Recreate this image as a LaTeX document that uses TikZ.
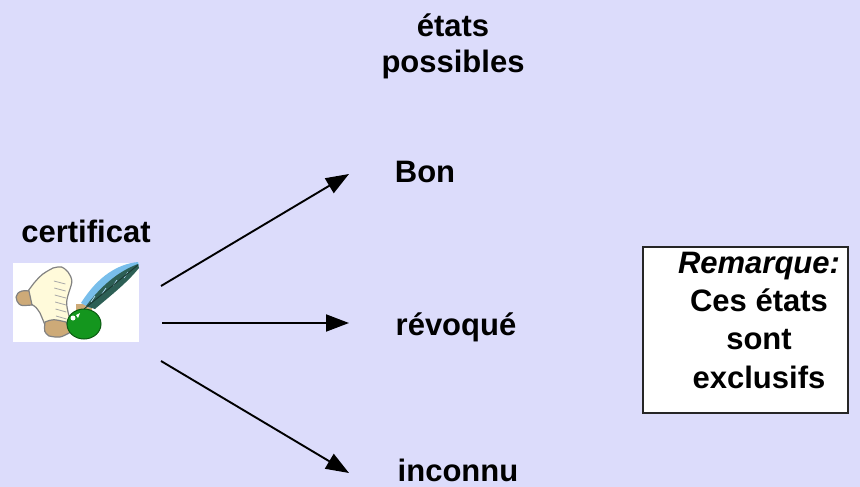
\documentclass[tikz,border=0pt]{standalone}
\usepackage{fontspec}
\setmainfont{Liberation Sans}
\usetikzlibrary{arrows.meta}
\definecolor{bgcol}{RGB}{220,220,251}
\definecolor{parch}{RGB}{255,250,218}
\definecolor{rollcol}{RGB}{205,170,120}
\definecolor{scrollline}{RGB}{130,130,130}
\definecolor{featherdark}{RGB}{45,95,85}
\definecolor{featherlight}{RGB}{120,190,235}
\definecolor{inkgreen}{RGB}{20,150,30}
\begin{document}
\begin{tikzpicture}[x=1pt,y=-1pt,
  lbl/.style={font=\fontsize{31}{37}\selectfont\bfseries, align=center, inner sep=0pt},
  conn/.style={line width=1.9pt, -{Triangle[length=23pt,width=17pt]}}]
  \fill[bgcol] (0,0) rectangle (860,487);
  \useasboundingbox (0,0) rectangle (860,487);

  % labels (base anchor = baseline of the last line)
  \node[lbl, anchor=base, font=\fontsize{31}{36}\selectfont\bfseries] (etats) at (453,73) {états\\possibles};
  \node[lbl, anchor=base] (cert) at (86,242) {certificat};
  \node[lbl, anchor=base] (bon) at (425,182) {Bon};
  \node[lbl, anchor=base] (revo) at (456,335) {révoqué};
  \node[lbl, anchor=base] (inco) at (458,481) {inconnu};

  % certificate icon
  \node[fill=white, minimum width=126pt, minimum height=79pt, inner sep=0pt] (icon) at (76,302.5) {};
  \begin{scope}
    % scroll body
    \filldraw[fill=parch, draw=scrollline, line width=1.2pt]
      (34,283) .. controls (42,274) .. (53,268) .. controls (62,266) .. (68,272)
      .. controls (73,280) .. (69,292) .. controls (66,302) .. (68,312)
      .. controls (70,320) .. (76,328) -- (60,336) .. controls (52,336) .. (47,330)
      .. controls (43,320) .. (40,313) .. controls (36,307) .. (31,304) -- (28,291) -- cycle;
    % left curl
    \filldraw[fill=rollcol, draw=scrollline, line width=1.2pt]
      (29,291) .. controls (18,289) and (14,296) .. (17,301)
      .. controls (20,306) .. (32,305) -- cycle;
    % bottom roll
    \filldraw[fill=rollcol, draw=scrollline, line width=1.2pt]
      (45,322) .. controls (53,319) .. (66,322) -- (71,332) .. controls (60,338) .. (49,336)
      .. controls (44,332) .. (45,322) -- cycle;
    % writing lines
    \foreach \yy in {281,288,295,302,309,316}
      \draw[scrollline!70, line width=0.8pt] (37+\yy*0.06,\yy) -- (57+\yy*0.03,\yy+3);
    % tan stand behind the pot
    \fill[rollcol] (76,304) rectangle (92,316);
    % quill feather
    \fill[featherlight] (138,262) .. controls (118,264) and (98,276) .. (81,303)
      -- (90,308) .. controls (104,292) and (122,278) .. (139,265) -- cycle;
    \fill[featherdark] (138,264) .. controls (122,270) and (104,282) .. (86,306)
      -- (95,309) .. controls (110,296) and (126,284) .. (139,268) -- cycle;
    \foreach \k in {0,1,2,3}
      \draw[featherlight!60!white, line width=0.7pt] (128-\k*11,272+\k*8) -- (124-\k*11,278+\k*8);
    \draw[featherdark!60!black, line width=0.9pt] (138,265) -- (84,309);
    % ink pot
    \filldraw[fill=inkgreen, draw=inkgreen!60!black, line width=1pt] (84,324) ellipse (17pt and 15pt);
    \fill[white] (73,318) circle (2.5pt);
    \fill[white] (76,315) -- (80,313) -- (78,318) -- cycle;
  \end{scope}

  % arrows
  \coordinate (s1) at (161,286);
  \coordinate (s2) at (162,323);
  \coordinate (s3) at (161,361);
  \coordinate (t1) at (349,174);
  \coordinate (t2) at (349,323);
  \coordinate (t3) at (349,473);
  \draw[conn] (s1) -- (t1);
  \draw[conn] (s2) -- (t2);
  \draw[conn] (s3) -- (t3);

  % remark box
  \node[draw=black!85, line width=1.5pt, fill=white, minimum width=205pt, minimum height=166pt, inner sep=0pt] (remark) at (745.5,330) {};
  \node[lbl, anchor=base, font=\fontsize{31}{38.3}\selectfont\bfseries] (remtxt) at (759,388) {\textit{Remarque:}\\Ces états\\sont\\exclusifs};
\end{tikzpicture}
\end{document}
